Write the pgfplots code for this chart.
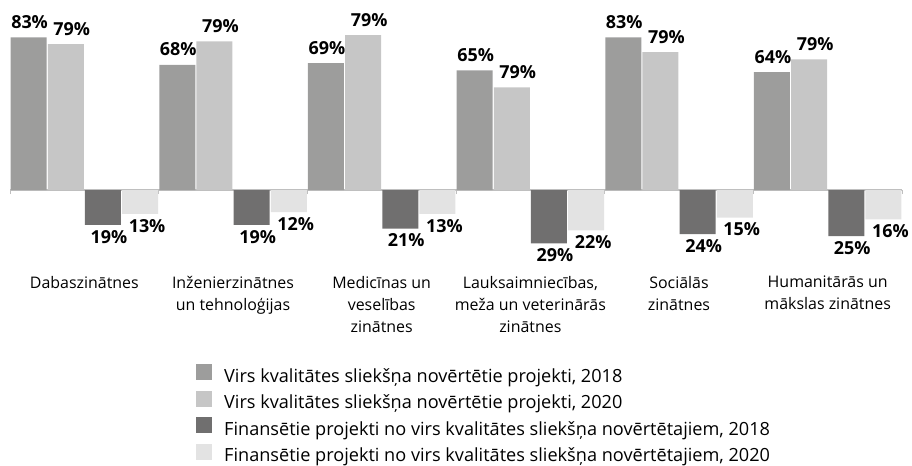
\documentclass[border=0pt]{standalone}
\usepackage{fontspec}
\setmainfont{Open Sans}
\usepackage{pgfplots}
\pgfplotsset{compat=1.18}
\usepackage{pgfplotstable}

\definecolor{cA}{RGB}{157,157,156}
\definecolor{cB}{RGB}{198,198,198}
\definecolor{cC}{RGB}{112,111,111}
\definecolor{cD}{RGB}{227,227,227}
\definecolor{axisgray}{RGB}{191,191,191}

% x = bar centre, y = drawn bar height, lab = printed label
\pgfplotstableread{
x     y    lab
0.125 83   83
1.125 68   68
2.125 69   69
3.125 65   65
4.125 83   83
5.125 64   64
}\tA
\pgfplotstableread{
x     y    lab
0.375 79.3 79
1.375 80.8 79
2.375 84.2 79
3.375 55.8 79
4.375 75.0 79
5.375 71.0 79
}\tB
\pgfplotstableread{
x     y    lab
0.625 -19  19
1.625 -19  19
2.625 -21  21
3.625 -29  29
4.625 -24  24
5.625 -25  25
}\tC
\pgfplotstableread{
x     y    lab
0.875 -13  13
1.875 -12  12
2.875 -13  13
3.875 -22  22
4.875 -15  15
5.875 -16  16
}\tD

\begin{document}
\begin{tikzpicture}
\begin{axis}[
  at={(0,0)}, anchor=origin,
  scale only axis, width=892bp, height=276bp,
  xmin=0, xmax=6, ymin=-50, ymax=100,
  axis y line=none, axis x line*=middle,
  x axis line style={-, draw=axisgray, line width=1.2bp},
  xtick={0.5,1.5,2.5,3.5,4.5,5.5},
  xticklabels={Dabaszinātnes,Inženierzinātnes\\un tehnoloģijas,Medicīnas un\\veselības\\zinātnes,{Lauksaimniecības,\\meža un veterinārās\\zinātnes},Sociālās\\zinātnes,Humanitārās un\\mākslas zinātnes},
  major tick length=0pt,
  minor xtick={0,1,2,3,4,5,6},
  minor tick length=4bp, tick align=outside,
  minor x tick style={draw=axisgray, line width=1bp},
  xticklabel style={align=center, font=\fontsize{16}{22}\selectfont, anchor=north, yshift=-86bp, inner sep=0pt},
  bar width=36bp,
  point meta=explicit symbolic,
  nodes near coords={\pgfplotspointmeta\%},
  legend cell align=left,
  legend image code/.code={\fill[#1] (0bp,-2.5bp) rectangle (16bp,13.5bp);},
  legend style={at={(axis description cs:0.2085,-0.298)}, anchor=north west, draw=none, fill=none, inner sep=0pt,
    font=\fontsize{18.2}{20}\selectfont, row sep=4.4bp, column sep=12bp,
    nodes={inner sep=0pt, text height=13bp, text depth=4bp}},
]
\addplot[ybar, fill=cA, draw=none,
  every node near coord/.append style={anchor=base, yshift=9bp, xshift=1bp, inner sep=0pt, font=\bfseries\fontsize{18}{18}\selectfont}]
  table[x=x, y=y, meta=lab]{\tA};
\addlegendentry{Virs kvalitātes sliekšņa novērtētie projekti, 2018}
\addplot[ybar, fill=cB, draw=none,
  every node near coord/.append style={anchor=base, yshift=9bp, xshift=6bp, inner sep=0pt, font=\bfseries\fontsize{18}{18}\selectfont}]
  table[x=x, y=y, meta=lab]{\tB};
\addlegendentry{Virs kvalitātes sliekšņa novērtētie projekti, 2020}
\addplot[ybar, fill=cC, draw=none,
  every node near coord/.append style={anchor=north, yshift=-5bp, xshift=6bp, inner sep=0pt, font=\bfseries\fontsize{18}{18}\selectfont}]
  table[x=x, y=y, meta=lab]{\tC};
\addlegendentry{Finansētie projekti no virs kvalitātes sliekšņa novērtētajiem, 2018}
\addplot[ybar, fill=cD, draw=none,
  every node near coord/.append style={anchor=north, yshift=-5bp, xshift=7bp, inner sep=0pt, font=\bfseries\fontsize{18}{18}\selectfont}]
  table[x=x, y=y, meta=lab]{\tD};
\addlegendentry{Finansētie projekti no virs kvalitātes sliekšņa novērtētajiem, 2020}
\end{axis}
\pgfresetboundingbox
\path[use as bounding box] (-10bp,-276bp) rectangle (902bp,190bp);
\end{tikzpicture}
\end{document}
